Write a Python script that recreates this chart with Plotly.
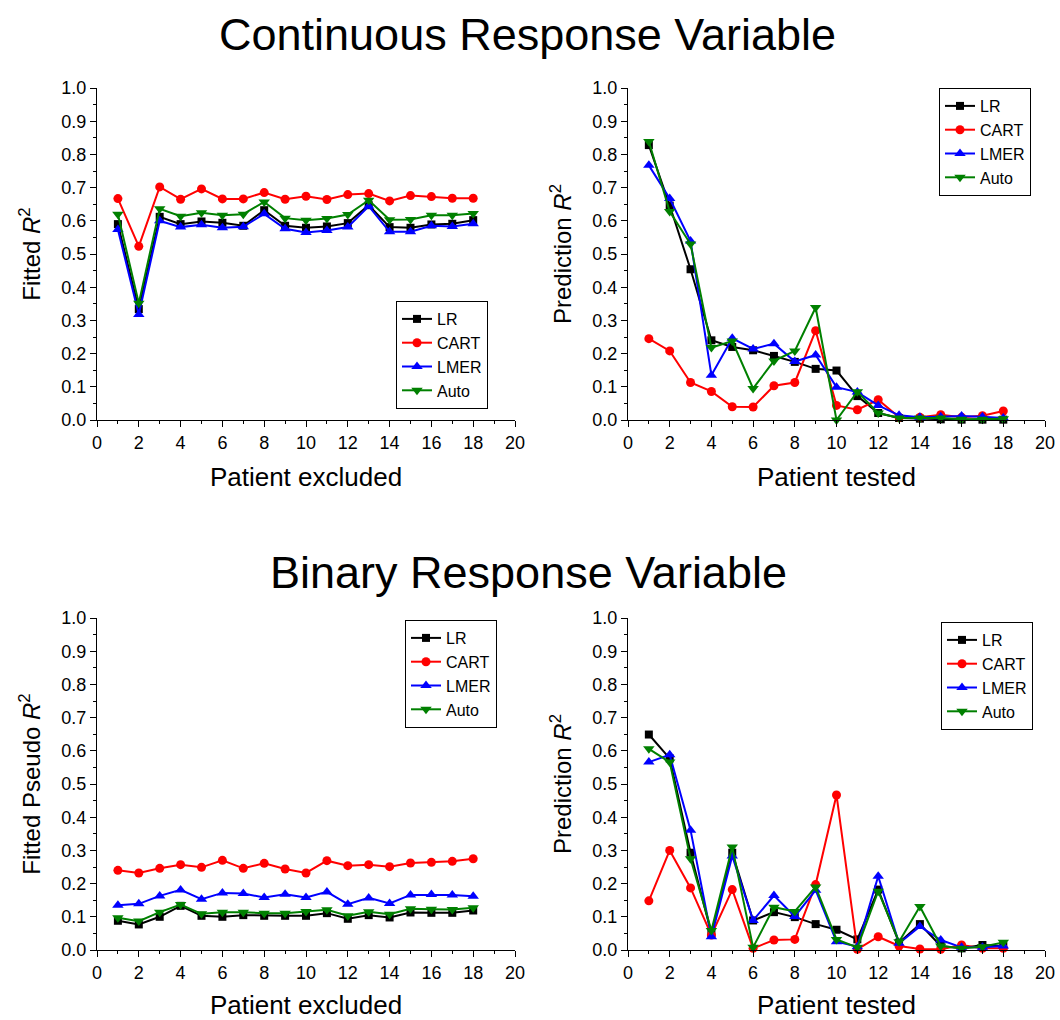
import plotly.graph_objects as go

patients = list(range(1, 19))
methods = ["LR", "CART", "LMER", "Auto"]

# Continuous response: fitted R^2 (patient excluded)
cont_fit_lr = [0.590, 0.334, 0.612, 0.590, 0.598, 0.594, 0.585, 0.632, 0.585, 0.579, 0.583, 0.593, 0.647, 0.581, 0.579, 0.589, 0.591, 0.602]
cont_fit_cart = [0.667, 0.523, 0.702, 0.665, 0.696, 0.666, 0.666, 0.685, 0.665, 0.674, 0.664, 0.679, 0.682, 0.660, 0.676, 0.673, 0.668, 0.668]
cont_fit_lmer = [0.574, 0.318, 0.600, 0.581, 0.588, 0.579, 0.582, 0.621, 0.576, 0.565, 0.571, 0.581, 0.644, 0.567, 0.567, 0.585, 0.583, 0.591]
cont_fit_auto = [0.620, 0.352, 0.636, 0.614, 0.624, 0.617, 0.620, 0.657, 0.608, 0.602, 0.607, 0.619, 0.662, 0.603, 0.604, 0.617, 0.617, 0.622]

# Continuous response: prediction R^2 (patient tested)
cont_pred_lr = [0.828, 0.646, 0.454, 0.240, 0.220, 0.210, 0.193, 0.175, 0.154, 0.149, 0.072, 0.021, 0.006, 0.004, 0.002, 0.001, 0.001, 0.001]
cont_pred_cart = [0.245, 0.208, 0.113, 0.086, 0.040, 0.039, 0.103, 0.113, 0.269, 0.044, 0.031, 0.061, 0.008, 0.008, 0.016, 0.008, 0.013, 0.027]
cont_pred_lmer = [0.767, 0.667, 0.539, 0.135, 0.246, 0.214, 0.230, 0.176, 0.196, 0.099, 0.084, 0.044, 0.014, 0.008, 0.010, 0.012, 0.010, 0.006]
cont_pred_auto = [0.839, 0.628, 0.530, 0.218, 0.238, 0.095, 0.178, 0.208, 0.339, 0.000, 0.085, 0.021, 0.006, 0.006, 0.006, 0.002, 0.002, 0.004]

# Binary response: fitted pseudo R^2 (patient excluded)
bin_fit_lr = [0.088, 0.077, 0.100, 0.133, 0.103, 0.100, 0.105, 0.103, 0.103, 0.103, 0.111, 0.094, 0.105, 0.098, 0.113, 0.112, 0.112, 0.119]
bin_fit_cart = [0.240, 0.232, 0.246, 0.257, 0.249, 0.270, 0.246, 0.261, 0.244, 0.232, 0.269, 0.254, 0.257, 0.251, 0.262, 0.264, 0.267, 0.275]
bin_fit_lmer = [0.135, 0.139, 0.163, 0.181, 0.153, 0.172, 0.170, 0.158, 0.168, 0.158, 0.175, 0.138, 0.157, 0.140, 0.166, 0.167, 0.166, 0.162]
bin_fit_auto = [0.097, 0.087, 0.114, 0.137, 0.109, 0.114, 0.114, 0.111, 0.111, 0.116, 0.121, 0.103, 0.115, 0.108, 0.124, 0.123, 0.122, 0.127]

# Binary response: prediction R^2 (patient tested)
bin_pred_lr = [0.649, 0.577, 0.293, 0.050, 0.293, 0.089, 0.114, 0.099, 0.078, 0.061, 0.032, 0.182, 0.022, 0.078, 0.012, 0.005, 0.015, 0.012]
bin_pred_cart = [0.148, 0.300, 0.187, 0.045, 0.182, 0.005, 0.030, 0.032, 0.197, 0.467, 0.002, 0.040, 0.012, 0.003, 0.002, 0.015, 0.005, 0.005]
bin_pred_lmer = [0.566, 0.588, 0.361, 0.040, 0.283, 0.089, 0.164, 0.101, 0.180, 0.025, 0.010, 0.222, 0.020, 0.071, 0.030, 0.008, 0.008, 0.012]
bin_pred_auto = [0.606, 0.566, 0.275, 0.059, 0.310, 0.008, 0.129, 0.116, 0.190, 0.032, 0.008, 0.177, 0.025, 0.131, 0.012, 0.005, 0.010, 0.023]

panel_data = [
    [cont_fit_lr, cont_fit_cart, cont_fit_lmer, cont_fit_auto],
    [cont_pred_lr, cont_pred_cart, cont_pred_lmer, cont_pred_auto],
    [bin_fit_lr, bin_fit_cart, bin_fit_lmer, bin_fit_auto],
    [bin_pred_lr, bin_pred_cart, bin_pred_lmer, bin_pred_auto],
]
x_titles = ["Patient excluded", "Patient tested", "Patient excluded", "Patient tested"]
y_titles = ["Fitted <i>R</i><sup>2</sup>", "Prediction <i>R</i><sup>2</sup>",
            "Fitted Pseudo <i>R</i><sup>2</sup>", "Prediction <i>R</i><sup>2</sup>"]
titles = ["Continuous Response Variable", "Binary Response Variable"]

colors = {"LR": "#000000", "CART": "#ff0000", "LMER": "#0000ff", "Auto": "#008000"}
symbols = {"LR": "square", "CART": "circle", "LMER": "triangle-up", "Auto": "triangle-down"}
msizes = {"LR": 8, "CART": 9, "LMER": 10, "Auto": 10}

W, H = 1060, 1020
FONT = "Arial, Liberation Sans, sans-serif"

# panel boxes in pixels: (left, right, top, bottom)
boxes = [(97, 515, 88, 420), (628, 1045, 88, 420), (97, 515, 618, 950), (628, 1045, 618, 950)]
# legend box centres in pixels
legend_pos = [(442, 355), (985, 142), (451, 674), (987, 676)]

fig = go.Figure()
layout = dict(
    width=W, height=H, margin=dict(l=0, r=0, t=0, b=0),
    paper_bgcolor="white", plot_bgcolor="white",
    font=dict(family=FONT, color="black"),
    annotations=[],
)

for p in range(4):
    n = p + 1
    xa = "x" if n == 1 else f"x{n}"
    ya = "y" if n == 1 else f"y{n}"
    leg = "legend" if n == 1 else f"legend{n}"
    for m, vals in zip(methods, panel_data[p]):
        fig.add_trace(go.Scatter(
            x=patients, y=vals, mode="lines+markers", name=m,
            line=dict(color=colors[m], width=2),
            marker=dict(symbol=symbols[m], size=msizes[m], color=colors[m]),
            xaxis=xa, yaxis=ya, legend=leg, cliponaxis=False,
        ))
    l, r, t, b = boxes[p]
    xdom = [l / W, r / W]
    ydom = [1 - b / H, 1 - t / H]
    common = dict(showgrid=False, zeroline=False, showline=True, linecolor="black", linewidth=1)
    layout[f"xaxis{n}"] = dict(
        domain=xdom, anchor=ya, range=[0, 20], tick0=0, dtick=2,
        ticks="outside", ticklen=6, tickwidth=1, tickcolor="black",
        minor=dict(dtick=1, ticks="outside", ticklen=3, tickcolor="black"),
        tickfont=dict(size=18, family=FONT),
        title=dict(text=x_titles[p], font=dict(size=26, family=FONT), standoff=16),
        automargin=False, **common)
    layout[f"yaxis{n}"] = dict(
        domain=ydom, anchor=xa, range=[0, 1], tick0=0, dtick=0.1, tickformat=".1f",
        ticks="outside", ticklen=6, tickwidth=1, tickcolor="black",
        minor=dict(dtick=0.05, ticks="outside", ticklen=3, tickcolor="black"),
        tickfont=dict(size=18, family=FONT),
        title=dict(text=y_titles[p], font=dict(size=24, family=FONT), standoff=13),
        automargin=False, **common)
    # mirrored frame with inward ticks (top and right)
    layout[f"xaxis{n + 4}"] = dict(
        overlaying=xa, anchor=ya, side="top", range=[0, 20], tick0=0, dtick=2,
        ticks="inside", ticklen=5, tickcolor="black", showticklabels=False,
        minor=dict(dtick=1, ticks="inside", ticklen=3, tickcolor="black"),
        **common)
    layout[f"yaxis{n + 4}"] = dict(
        overlaying=ya, anchor=xa, side="right", range=[0, 1], tick0=0, dtick=0.1,
        ticks="inside", ticklen=5, tickcolor="black", showticklabels=False,
        minor=dict(dtick=0.05, ticks="inside", ticklen=3, tickcolor="black"),
        **common)
    lx, ly = legend_pos[p]
    layout[leg] = dict(
        x=lx / W, y=1 - ly / H, xanchor="center", yanchor="middle",
        bgcolor="white", bordercolor="black", borderwidth=1,
        font=dict(size=16, family=FONT), tracegroupgap=0,
    )

layout["annotations"] = [
    dict(text=titles[0], x=527 / W, y=1 - 35 / H, xref="paper", yref="paper",
         showarrow=False, font=dict(size=45, family=FONT), xanchor="center", yanchor="middle"),
    dict(text=titles[1], x=528 / W, y=1 - 572 / H, xref="paper", yref="paper",
         showarrow=False, font=dict(size=45, family=FONT), xanchor="center", yanchor="middle"),
]

fig.update_layout(**layout)
fig.write_html("out.html")
